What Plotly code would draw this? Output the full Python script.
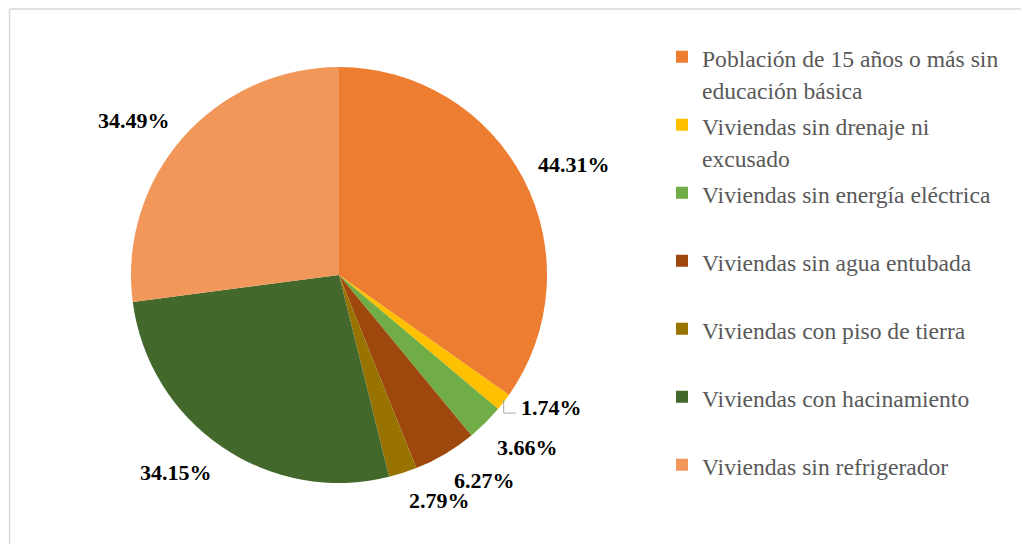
import math
import plotly.graph_objects as go

# ---- data ----
categories = [
    "Población de 15 años o más sin<br>educación básica",
    "Viviendas sin drenaje ni<br>excusado",
    "Viviendas sin energía eléctrica<br>&nbsp;",
    "Viviendas sin agua entubada<br>&nbsp;",
    "Viviendas con piso de tierra<br>&nbsp;",
    "Viviendas con hacinamiento<br>&nbsp;",
    "Viviendas sin refrigerador<br>&nbsp;",
]
values = [44.31, 1.74, 3.66, 6.27, 2.79, 34.15, 34.49]
colors = ["#ED7D31", "#FFC000", "#70AD47", "#9E480E", "#997300", "#43682B", "#F1975A"]

OFF = 8                      # page body margin of the written html
W, H = 1029 - OFF, 544 - OFF
cx, cy, R = 339 - OFF, 275 - OFF, 208  # pie centre / radius in figure pixels
SERIF = "Liberation Serif"

legend_labels = ["<span style='font-family:Liberation Serif;font-size:23.6px'>" + c + "</span>"
                 for c in categories]

fig = go.Figure(go.Pie(
    labels=legend_labels,
    values=values,
    sort=False,
    direction="clockwise",
    rotation=0,
    textinfo="none",
    hoverinfo="label+value",
    marker=dict(colors=colors, line=dict(width=0)),
    domain=dict(x=[(cx - R) / W, (cx + R) / W], y=[(H - cy - R) / H, (H - cy + R) / H]),
))


def to_paper(xpx, ypx_up):
    return xpx / W, ypx_up / H


# data labels placed around the pie from the slice mid-angles
total = sum(values)
cum = 0.0
gap = 14
for i, v in enumerate(values):
    mid = (cum + v / 2) / total * 2 * math.pi
    cum += v
    s, c = math.sin(mid), math.cos(mid)
    label_font = dict(family=SERIF, size=22, color="#000000")
    if v < 2:
        # small slice: short leader line from the slice edge to the label
        ex, ey = cx + R * s, (H - cy) + R * c
        x0, y0 = to_paper(ex, ey + 2)
        x1, y1 = to_paper(ex, ey - 11)
        x2, y2 = to_paper(ex + 12, ey - 11)
        fig.add_shape(type="path", xref="paper", yref="paper",
                      path=f"M{x0},{y0} L{x1},{y1} L{x2},{y2}",
                      line=dict(color="#A6A6A6", width=1))
        lx, ly = to_paper(ex + 15, ey - 5)
        fig.add_annotation(x=lx, y=ly, xref="paper", yref="paper",
                           text=f"<b>{v:.2f}%</b>", showarrow=False,
                           xanchor="left", yanchor="middle", font=label_font)
        continue
    px = cx + (R + gap) * s
    py = (H - cy) + (R + gap) * c
    fig.add_annotation(
        x=px / W, y=py / H, xref="paper", yref="paper",
        text=f"<b>{v:.2f}%</b>", showarrow=False,
        xanchor="left" if s >= 0 else "right",
        yanchor="bottom" if c >= 0 else "top",
        yshift=-6 if c >= 0 else 0,
        font=label_font,
    )

# chart border
fig.add_shape(type="line", xref="paper", yref="paper", x0=0.0015, x1=1.0, y0=0.998, y1=0.998,
              line=dict(color="#D9D9D9", width=1.5))
fig.add_shape(type="line", xref="paper", yref="paper", x0=0.0015, x1=0.0015, y0=0, y1=0.998,
              line=dict(color="#D9D9D9", width=1.5))

fig.update_layout(
    width=W, height=H,
    margin=dict(l=0, r=0, t=0, b=0),
    paper_bgcolor="white",
    plot_bgcolor="white",
    font=dict(family=SERIF, color="#595959"),
    showlegend=True,
    legend=dict(
        x=(703 - OFF - 41) / W, xanchor="left",
        y=1 - 26 / H, yanchor="top",
        valign="top",
        font=dict(size=25, color="#595959", family=SERIF),
        itemwidth=30,
        bgcolor="rgba(0,0,0,0)",
    ),
)

fig.write_html("out.html")
